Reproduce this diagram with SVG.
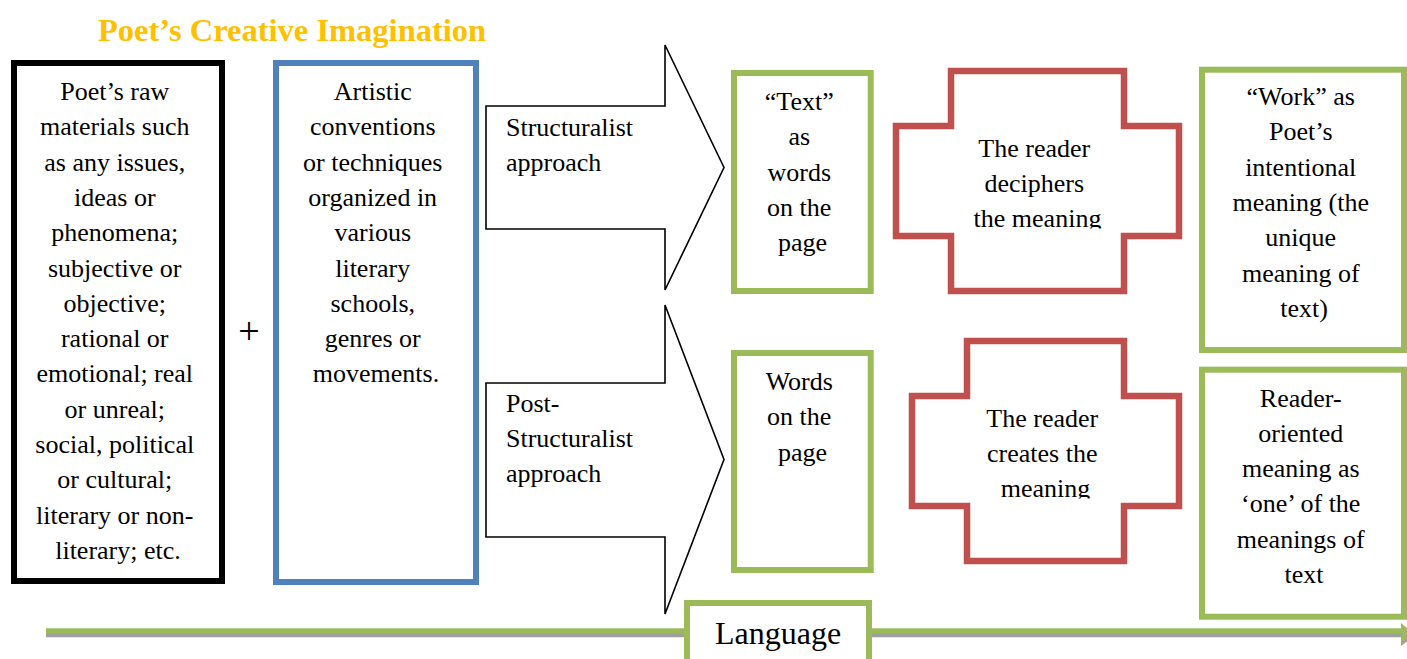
<svg xmlns="http://www.w3.org/2000/svg" width="1407" height="659" viewBox="0 0 1407 659">
<style>
text{font-family:"Liberation Serif","Times New Roman",serif;font-size:26px;fill:#000}
.c{text-anchor:middle}
.title{font-size:32.5px;font-weight:bold;fill:#FFC000}
.gbox{fill:#fff;stroke:#9BBB59;stroke-width:6}
.cross{fill:#fff;stroke:#C0504D;stroke-width:6.5}
.arrow{fill:#fff;stroke:#000;stroke-width:1.6;stroke-linejoin:miter}
</style>
<defs>
<clipPath id="clip1"><rect x="900" y="120" width="275" height="108.5"/></clipPath>
<clipPath id="clip2"><rect x="915" y="390" width="260" height="108.5"/></clipPath>
</defs>
<rect width="1407" height="659" fill="#fff"/>
<text id="title" x="98" y="41" class="title">Poet’s Creative Imagination</text>

<g id="connectors">
<line x1="46" y1="634.8" x2="1402" y2="634.8" stroke="#A0A0A0" stroke-width="5"/>
<polygon points="1401,626 1413,637 1401,646" fill="#A0A0A0"/>
<line x1="46" y1="630.8" x2="1402" y2="630.8" stroke="#9BBB59" stroke-width="5"/>
<polygon points="1401,623 1413,633 1401,643" fill="#9BBB59"/>
</g>

<g id="raw-materials">
<rect x="14" y="63" width="208" height="518" fill="#fff" stroke="#000" stroke-width="6"/>
<text class="c">
<tspan x="118" y="100">Poet’s raw</tspan>
<tspan x="118" y="135.3">materials such</tspan>
<tspan x="118" y="170.6">as any issues,</tspan>
<tspan x="118" y="205.9">ideas or</tspan>
<tspan x="118" y="241.2">phenomena;</tspan>
<tspan x="118" y="276.5">subjective or</tspan>
<tspan x="118" y="311.8">objective;</tspan>
<tspan x="118" y="347.1">rational or</tspan>
<tspan x="118" y="382.4">emotional; real</tspan>
<tspan x="118" y="417.7">or unreal;</tspan>
<tspan x="118" y="453">social, political</tspan>
<tspan x="118" y="488.3">or cultural;</tspan>
<tspan x="118" y="523.6">literary or non-</tspan>
<tspan x="118" y="558.9">literary; etc.</tspan>
</text>
</g>

<g id="plus">
<text x="249" y="344" class="c" style="font-size:38px">+</text>
</g>

<g id="conventions">
<rect x="276" y="63" width="200" height="519" fill="#fff" stroke="#4F81BD" stroke-width="6"/>
<text class="c">
<tspan x="376" y="100">Artistic</tspan>
<tspan x="376" y="135.3">conventions</tspan>
<tspan x="376" y="170.6">or techniques</tspan>
<tspan x="376" y="205.9">organized in</tspan>
<tspan x="376" y="241.2">various</tspan>
<tspan x="376" y="276.5">literary</tspan>
<tspan x="376" y="311.8">schools,</tspan>
<tspan x="376" y="347.1">genres or</tspan>
<tspan x="376" y="382.4">movements.</tspan>
</text>
</g>

<g id="structuralist-arrow">
<polygon class="arrow" points="486,106 665,106 665,45 724,167.5 665,290 665,229 486,229"/>
<text><tspan x="506" y="136">Structuralist</tspan><tspan x="506" y="171">approach</tspan></text>
</g>

<g id="poststructuralist-arrow">
<polygon class="arrow" points="486,383 665,383 665,305 724,459.5 665,614 665,537 486,537"/>
<text><tspan x="506" y="412">Post-</tspan><tspan x="506" y="447">Structuralist</tspan><tspan x="506" y="482">approach</tspan></text>
</g>

<g id="text-box">
<rect class="gbox" x="734" y="73" width="136.7" height="218"/>
<text class="c">
<tspan x="802.5" y="110">“Text”</tspan>
<tspan x="802.5" y="145.3">as</tspan>
<tspan x="802.5" y="180.6">words</tspan>
<tspan x="802.5" y="215.9">on the</tspan>
<tspan x="802.5" y="251.2">page</tspan>
</text>
</g>

<g id="words-box">
<rect class="gbox" x="734" y="353" width="136.7" height="217"/>
<text class="c">
<tspan x="802.5" y="390">Words</tspan>
<tspan x="802.5" y="425.3">on the</tspan>
<tspan x="802.5" y="460.6">page</tspan>
</text>
</g>

<g id="deciphers">
<polygon class="cross" points="951,71 1124,71 1124,126 1179,126 1179,236 1124,236 1124,291 951,291 951,236 896,236 896,126 951,126"/>
<text class="c" clip-path="url(#clip1)">
<tspan x="1037.5" y="156.7">The reader</tspan>
<tspan x="1037.5" y="192">deciphers</tspan>
<tspan x="1037.5" y="227.2">the meaning</tspan>
</text>
</g>

<g id="creates">
<polygon class="cross" points="967,341 1124,341 1124,396 1179,396 1179,506 1124,506 1124,561 967,561 967,506 912,506 912,396 967,396"/>
<text class="c" clip-path="url(#clip2)">
<tspan x="1045.5" y="426.7">The reader</tspan>
<tspan x="1045.5" y="462">creates the</tspan>
<tspan x="1045.5" y="497.2">meaning</tspan>
</text>
</g>

<g id="work-box">
<rect class="gbox" x="1202" y="69.7" width="202" height="280.3"/>
<text class="c">
<tspan x="1304" y="105">“Work” as</tspan>
<tspan x="1304" y="140.3">Poet’s</tspan>
<tspan x="1304" y="175.6">intentional</tspan>
<tspan x="1304" y="210.9">meaning (the</tspan>
<tspan x="1304" y="246.2">unique</tspan>
<tspan x="1304" y="281.5">meaning of</tspan>
<tspan x="1304" y="316.8">text)</tspan>
</text>
</g>

<g id="reader-box">
<rect class="gbox" x="1202" y="369.7" width="202" height="247"/>
<text class="c">
<tspan x="1304" y="406.5">Reader-</tspan>
<tspan x="1304" y="441.8">oriented</tspan>
<tspan x="1304" y="477.1">meaning as</tspan>
<tspan x="1304" y="512.4">‘one’ of the</tspan>
<tspan x="1304" y="547.7">meanings of</tspan>
<tspan x="1304" y="583">text</tspan>
</text>
</g>

<g id="language">
<rect class="gbox" x="687" y="603" width="182" height="80" stroke-width="5.5"/>
<text x="778" y="644" class="c" style="font-size:32px">Language</text>
</g>
</svg>
